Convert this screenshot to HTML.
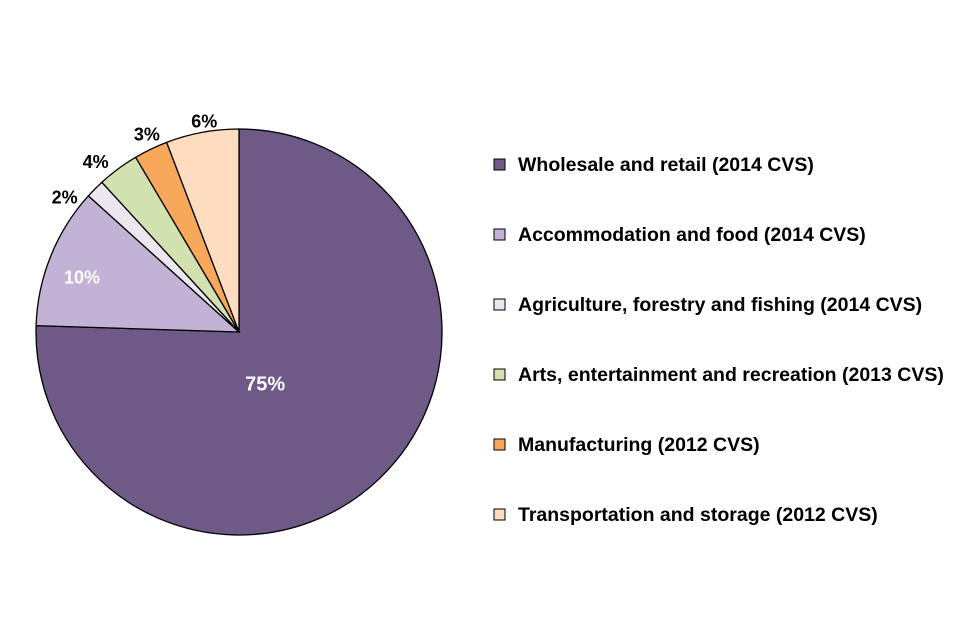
<!DOCTYPE html>
<html><head><meta charset="utf-8"><style>
body{margin:0;background:#fff;}
svg{display:block;font-family:"Liberation Sans",sans-serif;}
</style></head><body>
<svg id="chart" width="960" height="640" viewBox="0 0 960 640">
<g id="slices"></g><g id="labels"></g><g id="legend"></g>
</svg>
<script>
const categories=["Wholesale and retail (2014 CVS)","Accommodation and food (2014 CVS)","Agriculture, forestry and fishing (2014 CVS)","Arts, entertainment and recreation (2013 CVS)","Manufacturing (2012 CVS)","Transportation and storage (2012 CVS)"];
const values=[75.5,11.2,1.5,3.3,2.7,5.8];
const valueLabels=["75%","10%","2%","4%","3%","6%"];
const colors=["#6f5a87","#c2b3d6","#ebe6f0","#d3e0b0","#f7a85b","#fddcc0"];
const labelNudgeX=[-12,-12,-19,-13,3,5];
const labelNudgeY=[13,4,20,6,0,5];
const NS="http://www.w3.org/2000/svg";
const cx=239,cy=332,r=203;
const total=values.reduce((a,b)=>a+b,0);
function ptc(frac,rad){const a=frac*2*Math.PI-Math.PI/2;return [cx+rad*Math.cos(a),cy+rad*Math.sin(a)];}
let cum=0;
const sg=document.getElementById('slices'),lg=document.getElementById('labels'),leg=document.getElementById('legend');
values.forEach((v,i)=>{
 const f0=cum/total,f1=(cum+v)/total;cum+=v;
 const p0=ptc(f0,r),p1=ptc(f1,r);const large=(f1-f0)>0.5?1:0;
 const p=document.createElementNS(NS,'path');
 p.setAttribute('d',`M${cx},${cy}L${p0[0]},${p0[1]}A${r},${r} 0 ${large} 1 ${p1[0]},${p1[1]}Z`);
 p.setAttribute('fill',colors[i]);p.setAttribute('stroke','#000');p.setAttribute('stroke-width','1.3');
 
 
 sg.appendChild(p);
 const mid=(f0+f1)/2;let lp,fill='#000';
 if(i===0){lp=ptc(mid,r*0.27);fill='#fff';}
 else if(i===1){lp=ptc(mid,r*0.77);fill='#fff';}
 else lp=ptc(mid,r+16);
 const t=document.createElementNS(NS,'text');
 t.setAttribute('x',lp[0]+labelNudgeX[i]);t.setAttribute('y',lp[1]+6+labelNudgeY[i]);t.setAttribute('text-anchor','middle');
 t.setAttribute('font-size',i===0?'20':'18');t.setAttribute('font-weight','bold');t.setAttribute('fill',fill);
 t.textContent=valueLabels[i];
 
 
 lg.appendChild(t);
 const ly=165+i*70;
 const sq=document.createElementNS(NS,'rect');
 sq.setAttribute('x',494);sq.setAttribute('y',ly-6);sq.setAttribute('width',11);sq.setAttribute('height',11);
 sq.setAttribute('fill',colors[i]);sq.setAttribute('stroke','#000');sq.setAttribute('stroke-width','1');
 
 
 leg.appendChild(sq);
 const lt=document.createElementNS(NS,'text');
 lt.setAttribute('x',518);lt.setAttribute('y',ly+6);lt.setAttribute('font-size','19.5');lt.setAttribute('font-weight','bold');
 lt.textContent=categories[i];
 
 
 leg.appendChild(lt);
});
</script>
</body></html>
